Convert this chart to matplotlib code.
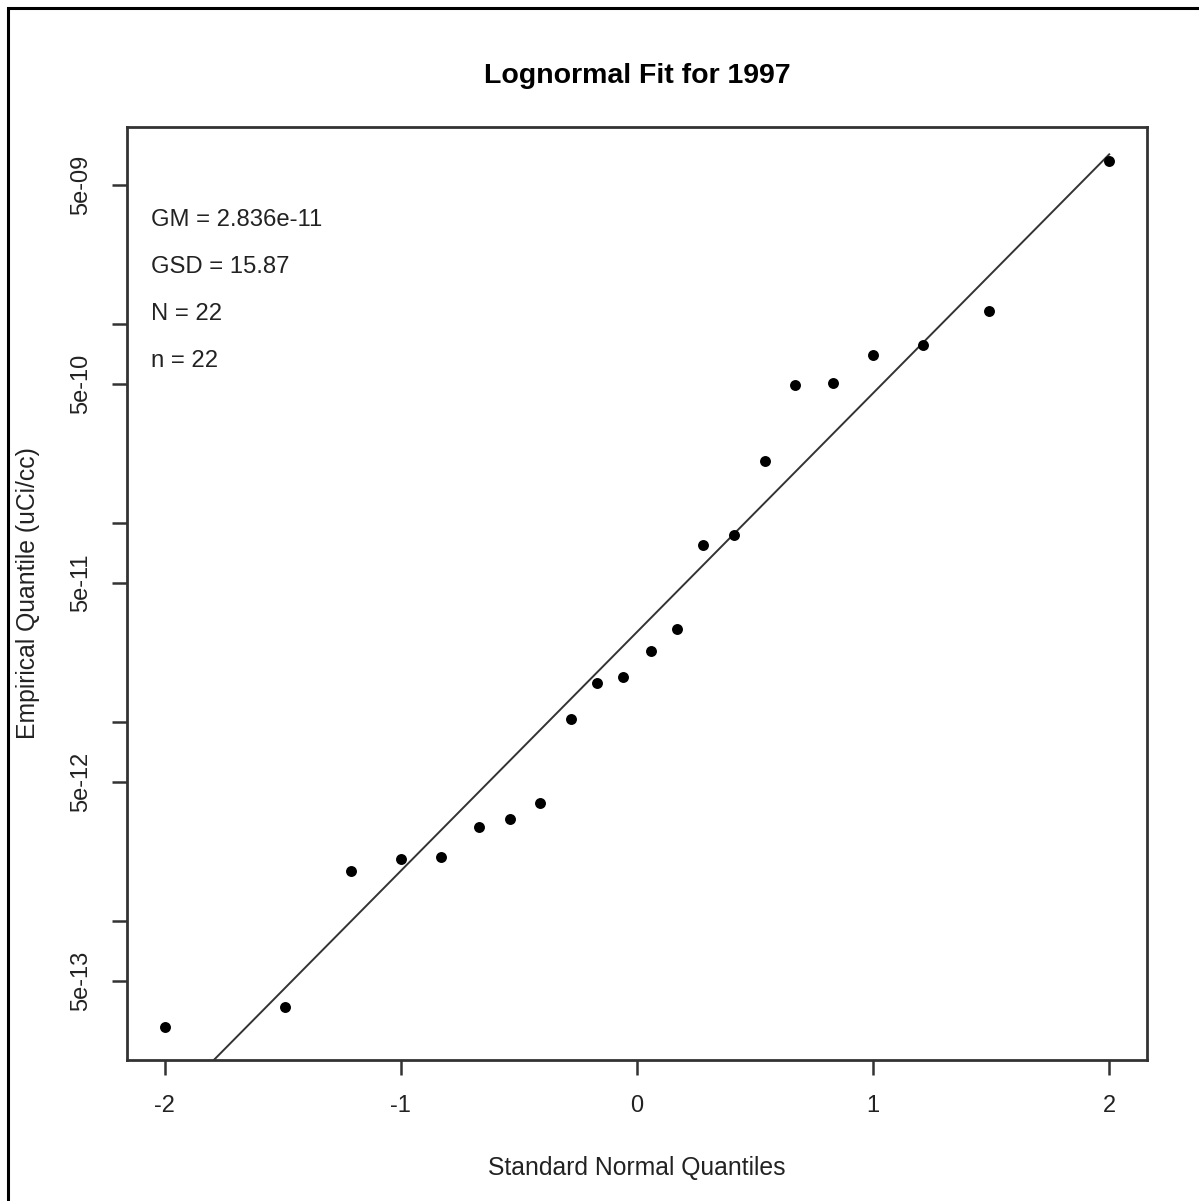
import numpy as np
import matplotlib.pyplot as plt
from matplotlib.patches import Rectangle

plt.rcParams['font.family'] = ['Liberation Sans', 'DejaVu Sans']

# standard normal quantiles (x) and empirical quantiles in uCi/cc (y)
theo_q = [-2.00, -1.49, -1.21, -1.00, -0.83, -0.67, -0.54, -0.41, -0.28, -0.17, -0.06,
          0.06, 0.17, 0.28, 0.41, 0.54, 0.67, 0.83, 1.00, 1.21, 1.49, 2.00]
emp_q = [2.94e-13, 3.70e-13, 1.79e-12, 2.05e-12, 2.10e-12, 2.97e-12, 3.26e-12, 3.92e-12,
         1.04e-11, 1.57e-11, 1.69e-11, 2.28e-11, 2.94e-11, 7.76e-11, 8.71e-11, 2.05e-10,
         4.94e-10, 5.06e-10, 7.00e-10, 7.85e-10, 1.16e-09, 6.61e-09]
gm = 2.836e-11
gsd = 15.87
n_total = 22
n_det = 22

x_ticks = [-2, -1, 0, 1, 2]
y_major = [5e-13, 5e-12, 5e-11, 5e-10, 5e-09]
y_minor = [1e-12, 1e-11, 1e-10, 1e-09]

fig = plt.figure(figsize=(11.99, 12.01), dpi=100)
ax = fig.add_axes([127 / 1199, 1 - 1060 / 1201, 1020 / 1199, 933 / 1201])

ax.scatter(theo_q, emp_q, s=62, color='black', zorder=3, linewidths=0)

# fitted lognormal line, drawn over the range of the theoretical quantiles
x_fit = np.array([min(theo_q), max(theo_q)])
ax.plot(x_fit, gm * gsd ** x_fit, color='#333333', lw=1.4)

ax.set_yscale('log')
ax.set_xlim(-2.16, 2.16)
ax.set_ylim(2.0e-13, 9.8e-09)

ax.set_xticks(x_ticks)
ax.set_xticklabels([str(t) for t in x_ticks])
ax.set_yticks(y_major)
ax.set_yticklabels(['5e-13', '5e-12', '5e-11', '5e-10', '5e-09'], rotation=90, va='center')
ax.set_yticks(y_minor, minor=True)
ax.yaxis.set_minor_formatter(plt.NullFormatter())
ax.tick_params(which='both', length=11, width=1.8, color='#333333',
               labelsize=17, labelcolor='#222222', pad=14)

for s in ax.spines.values():
    s.set_linewidth(2)
    s.set_color('#333333')

ax.set_title('Lognormal Fit for 1997', fontsize=20.5, fontweight='bold', pad=32)
ax.set_xlabel('Standard Normal Quantiles', fontsize=17.8, labelpad=28, color='#222222')
ax.set_ylabel('Empirical Quantile (uCi/cc)', fontsize=17.8, labelpad=22, color='#222222')

lines = [f'GM = {gm:.3e}', f'GSD = {gsd}', f'N = {n_total}', f'n = {n_det}']
for i, t in enumerate(lines):
    ax.text(151 / 1199, 1 - (220 + 47 * i) / 1201, t, transform=fig.transFigure,
            fontsize=17.2, color='#222222', va='center')

fig.patches.append(Rectangle((8 / 1199, -0.01), 1.05, 1 - 8 / 1201 + 0.01,
                             transform=fig.transFigure, fill=False,
                             edgecolor='black', lw=2.2))

fig.savefig('out.png', dpi=100)
